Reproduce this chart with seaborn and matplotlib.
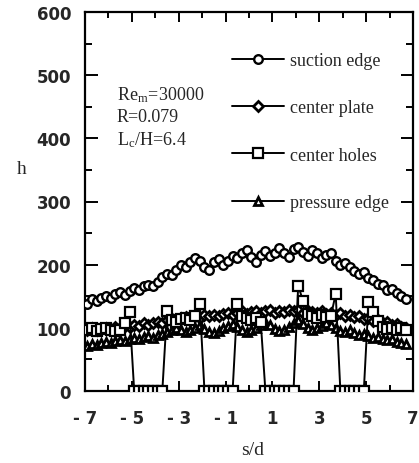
import numpy as np
import pandas as pd
import matplotlib
matplotlib.use("Agg")
import matplotlib.pyplot as plt
from matplotlib.ticker import MultipleLocator
import seaborn as sns

# Spanwise measurement stations (s/d)
s_d = [-6.9, -6.7, -6.5, -6.3, -6.1, -5.9, -5.7, -5.5, -5.3, -5.1,
       -4.9, -4.7, -4.5, -4.3, -4.1, -3.9, -3.7, -3.5, -3.3, -3.1,
       -2.9, -2.7, -2.5, -2.3, -2.1, -1.9, -1.7, -1.5, -1.3, -1.1,
       -0.9, -0.7, -0.5, -0.3, -0.1, 0.1, 0.3, 0.5, 0.7, 0.9,
       1.1, 1.3, 1.5, 1.7, 1.9, 2.1, 2.3, 2.5, 2.7, 2.9,
       3.1, 3.3, 3.5, 3.7, 3.9, 4.1, 4.3, 4.5, 4.7, 4.9,
       5.1, 5.3, 5.5, 5.7, 5.9, 6.1, 6.3, 6.5, 6.7]

# Heat transfer coefficient h at each station
suction_edge = [138, 145, 143, 148, 150, 147, 153, 156, 152, 158,
                163, 160, 166, 168, 167, 173, 180, 186, 183, 192,
                200, 196, 205, 210, 206, 197, 192, 204, 209, 200,
                206, 214, 210, 218, 224, 212, 205, 216, 222, 213,
                218, 226, 219, 212, 225, 228, 220, 214, 224, 218,
                210, 216, 219, 206, 200, 203, 196, 190, 186, 188,
                179, 175, 170, 168, 160, 162, 155, 150, 146]

center_plate = [97, 99, 96, 98, 100, 97, 101, 99, 103, 101,
                105, 103, 107, 105, 108, 110, 107, 112, 114, 111,
                115, 117, 114, 118, 116, 120, 118, 121, 119, 122,
                124, 121, 123, 126, 122, 125, 127, 123, 126, 128,
                124, 127, 125, 129, 126, 128, 124, 127, 125, 123,
                126, 122, 124, 121, 123, 119, 121, 117, 118, 114,
                115, 111, 112, 108, 109, 105, 106, 102, 100]

center_holes = [96, 99, 95, 98, 100, 97, 95, 96, 108, 125,
                0, 0, 0, 0, 0, 0, 0, 127, 112, 110,
                114, 116, 113, 119, 138, 0, 0, 0, 0, 0,
                0, 0, 138, 118, 115, 112, 116, 110, 0, 0,
                0, 0, 0, 0, 0, 167, 143, 122, 118, 116,
                120, 117, 119, 154, 0, 0, 0, 0, 0, 0,
                141, 125, 111, 102, 98, 100, 96, 99, 97]

pressure_edge = [72, 75, 73, 76, 78, 76, 79, 81, 79, 82,
                 84, 82, 85, 87, 84, 88, 91, 93, 96, 99,
                 97, 94, 96, 100, 104, 98, 94, 92, 95, 99,
                 103, 106, 101, 97, 94, 96, 100, 105, 110, 104,
                 98, 95, 97, 101, 107, 112, 106, 100, 97, 99,
                 103, 108, 104, 99, 95, 93, 96, 92, 89, 91,
                 87, 84, 86, 82, 80, 82, 78, 76, 74]

series_names = ["suction edge", "center plate", "center holes", "pressure edge"]
x_ticks = [-7, -5, -3, -1, 1, 3, 5, 7]
x_tick_labels = ["- 7", "- 5", "- 3", "- 1", "1", "3", "5", "7"]
y_ticks = [0, 100, 200, 300, 400, 500, 600]

df = pd.DataFrame({
    "s/d": s_d * 4,
    "h": suction_edge + center_plate + center_holes + pressure_edge,
    "series": [n for n in series_names for _ in s_d],
})

sns.set_style("ticks")
plt.rcParams["font.family"] = ["DejaVu Sans"]
plt.rcParams["mathtext.fontset"] = "stix"

fig = plt.figure(figsize=(4.19, 4.64), dpi=100)
ax = fig.add_axes([85 / 419, 72 / 464, 328 / 419, 379 / 464])

styles = {
    "pressure edge": dict(marker="^", markersize=6, markeredgewidth=2.0),
    "center plate": dict(marker="D", markersize=5, markeredgewidth=2.0),
    "center holes": dict(marker="s", markersize=7.5, markeredgewidth=1.6),
    "suction edge": dict(marker="o", markersize=6.2, markeredgewidth=1.7),
}
z = {"pressure edge": 2, "center plate": 3, "center holes": 4, "suction edge": 5}

for name in ["pressure edge", "center plate", "center holes", "suction edge"]:
    sub = df[df["series"] == name]
    sns.lineplot(data=sub, x="s/d", y="h", ax=ax, color="black",
                 linewidth=1.4, markerfacecolor="white", markeredgecolor="black",
                 estimator=None, sort=False, label=name, zorder=z[name],
                 **styles[name])

ax.set_xlim(-7, 7)
ax.set_ylim(0, 600)
ax.set_xticks(x_ticks)
ax.set_xticklabels(x_tick_labels)
ax.set_yticks(y_ticks)
ax.set_xticks([-6, -4, -2, 0, 2, 4, 6], minor=True)
ax.yaxis.set_minor_locator(MultipleLocator(50))
ax.set_xlabel("")
ax.set_ylabel("")

for sp in ax.spines.values():
    sp.set_visible(True)
    sp.set_linewidth(1.6)
    sp.set_color("black")

ax.tick_params(axis="both", which="both", direction="in", top=True, right=True,
               color="black", width=1.4)
ax.tick_params(axis="y", which="major", length=9, pad=10)
ax.tick_params(axis="y", which="minor", length=5)
ax.tick_params(axis="x", which="major", length=7, pad=13)
ax.tick_params(axis="x", which="minor", length=4)
for lab in ax.get_xticklabels() + ax.get_yticklabels():
    lab.set_fontweight("bold")
    lab.set_fontsize(12)

serif = ["Liberation Serif", "DejaVu Serif"]

handles, labels = ax.get_legend_handles_labels()
order = [labels.index(n) for n in series_names]
leg = ax.legend([handles[i] for i in order], [labels[i] for i in order],
                loc="upper left", bbox_to_anchor=(232 / 419, 1 - 53 / 464),
                bbox_transform=fig.transFigure, frameon=False,
                prop={"family": serif, "size": 13}, handlelength=2.9,
                handletextpad=0.3, labelspacing=1.68, borderpad=0,
                borderaxespad=0)

fig.text(117 / 419, 1 - 95 / 464, r"Re$_{\mathregular{m}}$=30000",
         family=serif, fontsize=13, ha="left", va="center")
fig.text(117 / 419, 1 - 118 / 464, "R=0.079",
         family=serif, fontsize=13, ha="left", va="center")
fig.text(117 / 419, 1 - 140 / 464, r"L$_{\mathregular{c}}$/H=6.4",
         family=serif, fontsize=13, ha="left", va="center")

fig.text(22 / 419, 1 - 170 / 464, "h", family=serif, fontsize=14,
         ha="center", va="center")
fig.text(253 / 419, 1 - 451 / 464, "s/d", family=serif, fontsize=14,
         ha="center", va="center")

fig.savefig("out.png", dpi=100)
